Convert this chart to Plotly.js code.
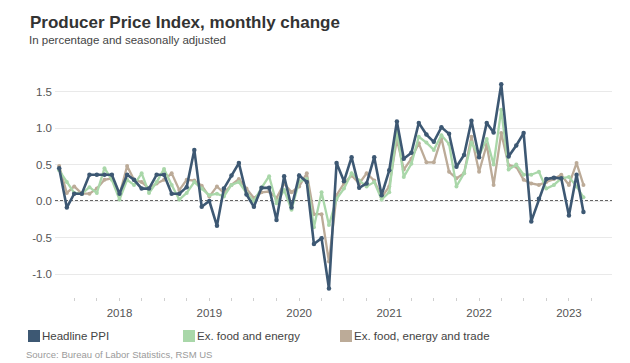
<!DOCTYPE html>
<html><head><meta charset="utf-8">
<script src="https://cdn.plot.ly/plotly-3.0.1.min.js"></script>
<style>html,body{margin:0;padding:0;background:#fff}#chart{width:630px;height:363px}</style>
</head><body><div id="chart"></div>
<script>
const months = [
 '2017-04','2017-05','2017-06','2017-07','2017-08','2017-09','2017-10','2017-11','2017-12',
 '2018-01','2018-02','2018-03','2018-04','2018-05','2018-06','2018-07','2018-08','2018-09','2018-10','2018-11','2018-12',
 '2019-01','2019-02','2019-03','2019-04','2019-05','2019-06','2019-07','2019-08','2019-09','2019-10','2019-11','2019-12',
 '2020-01','2020-02','2020-03','2020-04','2020-05','2020-06','2020-07','2020-08','2020-09','2020-10','2020-11','2020-12',
 '2021-01','2021-02','2021-03','2021-04','2021-05','2021-06','2021-07','2021-08','2021-09','2021-10','2021-11','2021-12',
 '2022-01','2022-02','2022-03','2022-04','2022-05','2022-06','2022-07','2022-08','2022-09','2022-10','2022-11','2022-12',
 '2023-01','2023-02'
];
const headline = [
 0.45,-0.09,0.10,0.10,0.36,0.36,0.36,0.36,0.10,
 0.36,0.29,0.17,0.17,0.36,0.36,0.10,0.10,0.19,0.70,-0.08,0.00,
 -0.34,0.17,0.35,0.52,0.09,-0.08,0.18,0.18,-0.26,0.34,-0.09,0.35,
 0.26,-0.59,-0.51,-1.20,0.52,0.27,0.60,0.18,0.24,0.60,0.08,0.42,
 1.09,0.58,0.66,1.07,0.91,0.81,1.01,0.92,0.47,0.63,1.10,0.60,
 1.07,0.94,1.60,0.61,0.76,0.93,-0.28,0.03,0.30,0.32,0.31,-0.20,
 0.36,-0.15
];
const exFoodEnergy = [
 0.42,0.26,0.11,0.10,0.19,0.11,0.45,0.29,0.02,
 0.29,0.22,0.38,0.11,0.26,0.44,0.22,0.02,0.11,0.26,0.17,0.08,
 0.10,0.06,0.22,0.26,0.11,0.00,0.18,0.34,-0.03,0.15,-0.12,0.27,
 0.30,-0.36,0.12,-0.33,0.03,0.17,0.38,0.28,0.20,0.26,0.02,0.12,
 0.98,0.33,0.51,0.88,0.80,0.70,0.90,0.78,0.20,0.38,0.80,0.62,
 0.85,0.50,1.25,0.43,0.50,0.36,0.36,0.40,0.17,0.22,0.31,0.33,
 0.20,0.05
];
const exFoodEnergyTrade = [
 0.48,0.11,0.20,0.10,0.10,0.17,0.29,0.31,0.08,
 0.48,0.29,0.26,0.17,0.24,0.29,0.38,0.15,0.29,0.28,0.21,0.06,
 0.20,0.11,0.22,0.30,0.17,0.04,0.12,0.13,0.04,0.24,0.12,0.20,
 0.38,-0.18,-0.18,-0.83,0.08,0.24,0.35,0.24,0.38,0.28,0.05,0.20,
 0.85,0.43,0.58,0.79,0.53,0.53,0.86,0.40,0.31,0.38,0.88,0.40,
 0.77,0.22,0.93,0.49,0.47,0.29,0.24,0.22,0.26,0.30,0.36,0.22,
 0.52,0.22
];
const seriesNames = ['Headline PPI','Ex. food and energy','Ex. food, energy and trade'];
const seriesColors = ['#3d5873','#a9d7a9','#bcab98'];
const years = ['2017','2018','2019','2020','2021','2022','2023'];
const yTicks = [-1.0,-0.5,0.0,0.5,1.0,1.5];

// quarterly tick marks, year labels on January
const tickvals = [], ticktext = [];
years.forEach(y => ['01','04','07','10'].forEach(m => {
  const d = y + '-' + m + '-01';
  if (d >= '2017-07-01' && d <= '2023-04-01') { tickvals.push(d); ticktext.push(m === '01' ? y : ''); }
}));

// plot area in pixels
const L = 55, R = 612, T = 72, B = 297;
const px = x => (x - L) / (R - L);
const py = y => (B - y) / (B - T);

function tr(vals, i, w, ms) {
  return {
    x: months, y: vals, type: 'scatter', mode: 'lines+markers', name: seriesNames[i],
    xperiod: 'M1', xperiodalignment: 'end',
    line: {color: seriesColors[i], width: w}, marker: {color: seriesColors[i], size: ms},
    showlegend: false, hoverinfo: 'x+y'
  };
}
const data = [
  tr(exFoodEnergyTrade, 2, 2.3, 4),
  tr(exFoodEnergy, 1, 2.3, 4),
  tr(headline, 0, 2.6, 4.5)
];

const legX = [28, 183, 340];
const shapes = [{type:'line', xref:'paper', x0:0, x1:1, yref:'y', y0:0, y1:0,
  line:{color:'#333', width:1.5, dash:'3px,2px'}, layer:'below'}];
const annotations = [
  {xref:'paper', yref:'paper', x:px(27), y:py(40), xanchor:'left', yanchor:'middle', showarrow:false,
   text:'In percentage and seasonally adjusted', font:{size:11.5, color:'#444'}},
  {xref:'paper', yref:'paper', x:px(24), y:py(354), xanchor:'left', yanchor:'middle', showarrow:false,
   text:'Source: Bureau of Labor Statistics, RSM US', font:{size:9.5, color:'#9a9a9a'}}
];
seriesNames.forEach((n, i) => {
  shapes.push({type:'rect', xref:'paper', yref:'paper', x0:px(legX[i]), x1:px(legX[i]+12),
    y0:py(342), y1:py(330), fillcolor:seriesColors[i], line:{width:0}});
  annotations.push({xref:'paper', yref:'paper', x:px(legX[i]+12), y:py(336), xanchor:'left', yanchor:'middle',
    showarrow:false, text:n, font:{size:11.5, color:'#444'}});
});

const layout = {
  width: 630, height: 363,
  margin: {l: L, r: 630 - R, t: T, b: 363 - B, pad: 0},
  paper_bgcolor: '#fff', plot_bgcolor: '#fff',
  font: {family: '"Liberation Sans", Arial, sans-serif', color: '#555'},
  title: {text: 'Producer Price Index, monthly change', x: 30/630, xref: 'container', xanchor: 'left',
          y: 1 - 22/363, yref: 'container', yanchor: 'middle',
          font: {size: 17, weight: 700, color: '#333'}},
  xaxis: {type: 'date', range: ['2017-04-14', '2023-06-25'], tickvals: tickvals, ticktext: ticktext,
          showgrid: false, zeroline: false, showline: false, ticks: 'outside', ticklen: 3, tickcolor: '#cfcfcf',
          tickfont: {size: 11.5, color: '#555'}, ticklabelstandoff: 2, fixedrange: true},
  yaxis: {range: [(201 - B) / 73, (201 - T) / 73], tickvals: yTicks, ticktext: yTicks.map(v => v.toFixed(1)),
          showgrid: true, gridcolor: '#e9e9e9', gridwidth: 1, zeroline: false, showline: false,
          tickfont: {size: 11.5, color: '#555'}, ticklabelstandoff: 2, fixedrange: true},
  shapes: shapes, annotations: annotations, showlegend: false
};
Plotly.newPlot('chart', data, layout, {displayModeBar: false, staticPlot: true});
</script>
</body></html>
